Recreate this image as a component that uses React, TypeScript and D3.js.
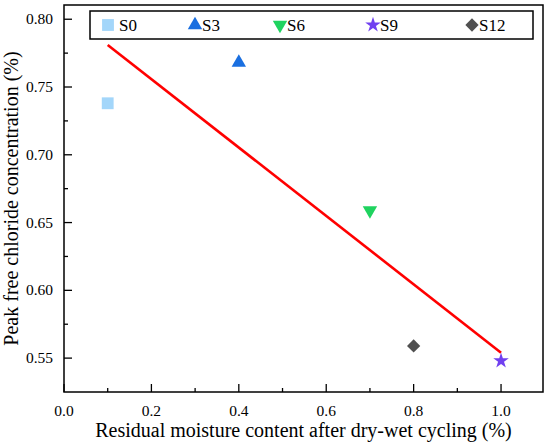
import React from 'react';
import * as d3 from 'd3';

// series
const seriesNames = ['S0', 'S3', 'S6', 'S9', 'S12'];
const moisture = [0.1, 0.4, 0.7, 1.0, 0.8];
const chloride = [0.738, 0.768, 0.659, 0.548, 0.559];

// red fitted line, end points
const fitX = [0.1, 1.0];
const fitY = [0.781, 0.554];

const xTicks = [0.0, 0.2, 0.4, 0.6, 0.8, 1.0];
const yTicks = [0.55, 0.6, 0.65, 0.7, 0.75, 0.8];
const xMinor = [0.1, 0.3, 0.5, 0.7, 0.9];
const yMinor = [0.575, 0.625, 0.675, 0.725, 0.775];

const colors = ['#a3d6fa', '#1a6fe0', '#1fd35f', '#7040f0', '#505050'];

const symbolFor = (i: number): { type: d3.SymbolType; size: number; rotate: number } => {
  switch (i) {
    case 0: return { type: d3.symbolSquare, size: 140, rotate: 0 };
    case 1: return { type: d3.symbolTriangle, size: 90, rotate: 0 };
    case 2: return { type: d3.symbolTriangle, size: 90, rotate: 180 };
    case 3: return { type: d3.symbolStar, size: 75, rotate: 0 };
    default: return { type: d3.symbolSquare, size: 88, rotate: 45 };
  }
};

const FONT = 'Liberation Serif';

const W = 550, H = 442;
const left = 64, right = 543, top = 5, bottom = 392;
const legendX = [108, 195, 280, 373, 472];

const App: React.FC = () => {
  const x = d3.scaleLinear().domain([0, 1.096]).range([left, right]);
  const y = d3.scaleLinear().domain([0.525, 0.8105]).range([bottom, top]);

  const line = d3.line<number>()
    .x((_, i) => x(fitX[i]))
    .y(d => y(d));

  const marker = (i: number, cx: number, cy: number) => {
    const s = symbolFor(i);
    return (
      <path
        key={`m${i}-${cx}`}
        d={d3.symbol().type(s.type).size(s.size)() || ''}
        transform={`translate(${cx},${cy}) rotate(${s.rotate})`}
        fill={colors[i]}
      />
    );
  };

  return (
    <svg width={W} height={H} style={{ position: 'absolute', left: 0, top: 0, display: 'block' }}>
      <rect width={W} height={H} fill="#fff" />

      <g stroke="#000" strokeWidth={1.3}>
        {xTicks.map(t => <line key={`xt${t}`} x1={x(t)} x2={x(t)} y1={bottom} y2={bottom - 8} />)}
        {xMinor.map(t => <line key={`xm${t}`} x1={x(t)} x2={x(t)} y1={bottom} y2={bottom - 4} />)}
        {yTicks.map(t => <line key={`yt${t}`} x1={left} x2={left + 8} y1={y(t)} y2={y(t)} />)}
        {yMinor.map(t => <line key={`ym${t}`} x1={left} x2={left + 4} y1={y(t)} y2={y(t)} />)}
      </g>

      <rect x={left} y={top} width={right - left} height={bottom - top}
        fill="none" stroke="#000" strokeWidth={1.5} />

      {xTicks.map(t => (
        <text key={`xl${t}`} x={x(t)} y={bottom + 24} textAnchor="middle"
          style={{ fontFamily: FONT, fontSize: '15.5px' }}>
          {d3.format('.1f')(t)}
        </text>
      ))}
      {yTicks.map(t => (
        <text key={`yl${t}`} x={left - 11} y={y(t) + 5} textAnchor="end"
          style={{ fontFamily: FONT, fontSize: '15.5px' }}>
          {d3.format('.2f')(t)}
        </text>
      ))}

      <text x={(left + right) / 2} y={437} textAnchor="middle"
        style={{ fontFamily: FONT, fontSize: '20px' }}>
        Residual moisture content after dry-wet cycling (%)
      </text>
      <text transform={`translate(18,${(top + bottom) / 2}) rotate(-90)`} textAnchor="middle"
        style={{ fontFamily: FONT, fontSize: '20px' }}>
        Peak free chloride concentration (%)
      </text>

      <path d={line(fitY) || ''} fill="none" stroke="#ff0000" strokeWidth={2.6} />

      {seriesNames.map((_, i) => marker(i, x(moisture[i]), y(chloride[i])))}

      <rect x={90} y={11} width={443} height={28} fill="#fff" stroke="#000" strokeWidth={1.5} />
      {seriesNames.map((name, i) => (
        <g key={`lg${name}`}>
          {marker(i, legendX[i], 25)}
          <text x={legendX[i] + (i === 0 ? 11 : 7)} y={31}
            style={{ fontFamily: FONT, fontSize: '17px' }}>
            {name}
          </text>
        </g>
      ))}
    </svg>
  );
};

export default App;
